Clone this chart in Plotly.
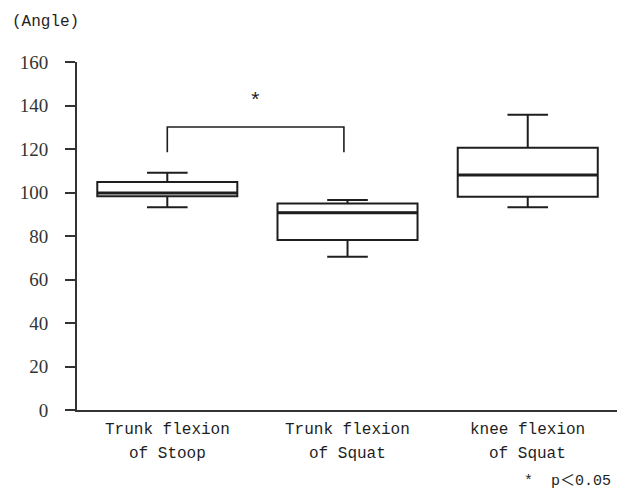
import plotly.graph_objects as go

cat_line1 = ["Trunk flexion", "Trunk flexion", "knee flexion"]
cat_line2 = ["of Stoop", "of Squat", "of Squat"]
lower = [93.2, 70.5, 93.2]
q1 = [98.3, 78.2, 98.1]
median = [99.8, 90.7, 108.0]
q3 = [104.8, 95.0, 120.6]
upper = [109.1, 96.6, 135.8]
yticks = [0, 20, 40, 60, 80, 100, 120, 140, 160]

bracket_x = [0.0, 0.98]
bracket_top = 130.1
bracket_leg = 118.5
star_x = 0.49
star_y = 141.7

MONO = "Liberation Mono, Noto Sans CJK SC, monospace"
SERIF = "Liberation Serif, serif"
INK = "#1e1e1e"
BOXW = 0.777

# page body has an 8px margin: shrink the figure so the drawing lands at 625x493
W, H = 617, 485
ML, MR, MT, MB = 69, 3, 54, 83
PW = W - ML - MR   # 545
PH = H - MT - MB   # 348

fig = go.Figure()
fig.add_trace(go.Box(
    x=[0, 1, 2], q1=q1, median=median, q3=q3,
    lowerfence=lower, upperfence=upper,
    width=BOXW, whiskerwidth=0.29,
    fillcolor="white", line=dict(color=INK, width=2),
    boxpoints=False, hoverinfo="skip", showlegend=False,
))
# thicker median bars, as in the original
for i, m in enumerate(median):
    fig.add_shape(type="line", xref="x", yref="y", x0=i - BOXW / 2, x1=i + BOXW / 2,
                  y0=m, y1=m, line=dict(color=INK, width=3))

fig.add_shape(type="path", xref="x", yref="y",
              path=(f"M {bracket_x[0]},{bracket_leg} L {bracket_x[0]},{bracket_top} "
                    f"L {bracket_x[1]},{bracket_top} L {bracket_x[1]},{bracket_leg}"),
              line=dict(color=INK, width=1.6))
fig.add_annotation(x=star_x, y=star_y, xref="x", yref="y", text="*", showarrow=False,
                   yanchor="middle", font=dict(family=MONO, size=21, color=INK))

# y-axis unit label
fig.add_annotation(x=(10 - 77) / PW, y=1 + (62 - 22) / PH, xref="paper", yref="paper",
                   text="(Angle)", showarrow=False, xanchor="left", yanchor="middle",
                   font=dict(family=MONO, size=16, color=INK))

# category labels (two lines each)
for i, (a, b) in enumerate(zip(cat_line1, cat_line2)):
    fig.add_annotation(x=i, y=-(430 - 410) / PH, xref="x", yref="paper", text=a,
                       showarrow=False, xanchor="center", yanchor="middle",
                       font=dict(family=MONO, size=16, color=INK))
    fig.add_annotation(x=i, y=-(454 - 410) / PH, xref="x", yref="paper", text=b,
                       showarrow=False, xanchor="center", yanchor="middle",
                       font=dict(family=MONO, size=16, color=INK))

fig.add_annotation(x=(613 - 77) / PW, y=-(481 - 410) / PH, xref="paper", yref="paper",
                   text="*  p＜0.05", showarrow=False, xanchor="right", yanchor="middle",
                   font=dict(family=MONO, size=15, color=INK))

fig.update_layout(
    width=W, height=H,
    margin=dict(l=ML, r=MR, t=MT, b=MB, autoexpand=False),
    paper_bgcolor="white", plot_bgcolor="white",
    font=dict(family=MONO, size=16, color=INK),
)

fig.update_xaxes(range=[-0.501, 2.523], tickvals=[0, 1, 2], showticklabels=False,
                 showgrid=False, zeroline=False, showline=True, linecolor="#333333",
                 linewidth=2, ticks="", automargin=False)
fig.update_yaxes(range=[0, 160], tickvals=yticks, showgrid=False, zeroline=False,
                 showline=True, linecolor="#333333", linewidth=2, ticks="outside",
                 ticklen=10, tickwidth=2, tickcolor="#333333", ticklabelstandoff=13,
                 automargin=False, tickfont=dict(family=SERIF, size=19, color="#333333"))

fig.write_html("out.html")
